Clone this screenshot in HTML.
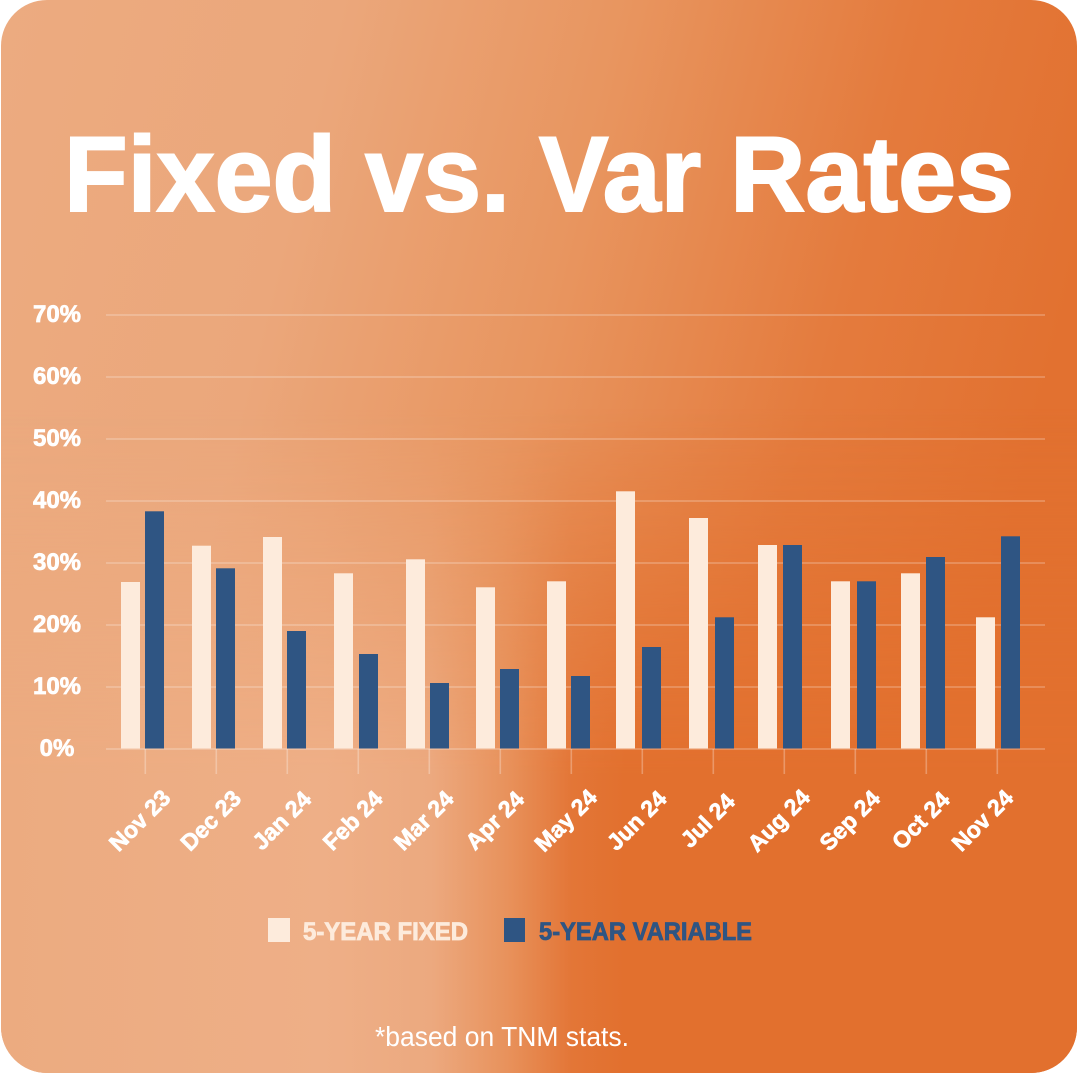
<!DOCTYPE html>
<html>
<head>
<meta charset="utf-8">
<style>
html,body{margin:0;padding:0;background:#ffffff;}
svg{display:block;}
</style>
</head>
<body>
<svg width="1078" height="1074" viewBox="0 0 1078 1074" xmlns="http://www.w3.org/2000/svg">
<defs>
  <linearGradient id="g1" x1="0" y1="0" x2="1" y2="0.25">
    <stop offset="0" stop-color="#ecab80"/>
    <stop offset="0.3" stop-color="#eba77b"/>
    <stop offset="0.55" stop-color="#e8955f"/>
    <stop offset="0.8" stop-color="#e47b3d"/>
    <stop offset="1" stop-color="#e27130"/>
  </linearGradient>
  <linearGradient id="g2" x1="0" y1="0" x2="1" y2="0">
    <stop offset="0" stop-color="#ecab80"/>
    <stop offset="0.3" stop-color="#eeaf87"/>
    <stop offset="0.4" stop-color="#eca97f"/>
    <stop offset="0.47" stop-color="#e8925c"/>
    <stop offset="0.53" stop-color="#e37637"/>
    <stop offset="0.58" stop-color="#e2702e"/>
    <stop offset="1" stop-color="#e2702e"/>
  </linearGradient>
  <linearGradient id="mg" x1="0" y1="0" x2="0" y2="1">
    <stop offset="0.38" stop-color="#fff" stop-opacity="0"/>
    <stop offset="0.72" stop-color="#fff" stop-opacity="1"/>
    <stop offset="1" stop-color="#fff" stop-opacity="1"/>
  </linearGradient>
  <mask id="m">
    <rect x="0" y="0" width="1078" height="1074" fill="url(#mg)"/>
  </mask>
  <clipPath id="card">
    <rect x="1" y="0" width="1076" height="1073" rx="46" ry="46"/>
  </clipPath>
</defs>

<g clip-path="url(#card)">
  <rect x="0" y="0" width="1078" height="1074" fill="url(#g1)"/>
  <rect x="0" y="0" width="1078" height="1074" fill="url(#g2)" mask="url(#m)"/>
</g>

<!-- Title -->
<text x="64" y="211" font-family="Liberation Sans, Arial, sans-serif" font-weight="bold" font-size="107" fill="#ffffff" stroke="#ffffff" stroke-width="2" textLength="950" lengthAdjust="spacingAndGlyphs">Fixed vs. Var Rates</text>

<!-- Gridlines -->
<g stroke="#ffffff" stroke-opacity="0.28" stroke-width="1.6">
  <line x1="106" y1="315" x2="1045" y2="315"/>
  <line x1="106" y1="377" x2="1045" y2="377"/>
  <line x1="106" y1="439" x2="1045" y2="439"/>
  <line x1="106" y1="501" x2="1045" y2="501"/>
  <line x1="106" y1="563" x2="1045" y2="563"/>
  <line x1="106" y1="625" x2="1045" y2="625"/>
  <line x1="106" y1="687" x2="1045" y2="687"/>
  <line x1="106" y1="749" x2="1045" y2="749"/>
  <!-- ticks -->
  <line x1="145.3" y1="749" x2="145.3" y2="774"/>
  <line x1="216.3" y1="749" x2="216.3" y2="774"/>
  <line x1="287.3" y1="749" x2="287.3" y2="774"/>
  <line x1="358.3" y1="749" x2="358.3" y2="774"/>
  <line x1="429.3" y1="749" x2="429.3" y2="774"/>
  <line x1="500.3" y1="749" x2="500.3" y2="774"/>
  <line x1="571.3" y1="749" x2="571.3" y2="774"/>
  <line x1="642.3" y1="749" x2="642.3" y2="774"/>
  <line x1="713.3" y1="749" x2="713.3" y2="774"/>
  <line x1="784.3" y1="749" x2="784.3" y2="774"/>
  <line x1="855.3" y1="749" x2="855.3" y2="774"/>
  <line x1="926.3" y1="749" x2="926.3" y2="774"/>
  <line x1="997.3" y1="749" x2="997.3" y2="774"/>
</g>

<!-- Y labels -->
<g font-family="Liberation Sans, Arial, sans-serif" font-weight="bold" font-size="24" fill="#ffffff" stroke="#ffffff" stroke-width="0.7" text-anchor="middle">
  <text x="57" y="322">70%</text>
  <text x="57" y="384">60%</text>
  <text x="57" y="446">50%</text>
  <text x="57" y="508">40%</text>
  <text x="57" y="570">30%</text>
  <text x="57" y="632">20%</text>
  <text x="57" y="694">10%</text>
  <text x="57" y="756">0%</text>
</g>

<!-- Fixed bars -->
<g fill="#fdebdc">
  <rect x="121" y="582" width="19" height="166.5"/>
  <rect x="192" y="545.7" width="19" height="202.8"/>
  <rect x="263" y="537" width="19" height="211.5"/>
  <rect x="334" y="573.3" width="19" height="175.2"/>
  <rect x="406" y="559.3" width="19" height="189.2"/>
  <rect x="476" y="587.3" width="19" height="161.2"/>
  <rect x="547" y="581.3" width="19" height="167.2"/>
  <rect x="616" y="491.3" width="19" height="257.2"/>
  <rect x="689" y="518" width="19" height="230.5"/>
  <rect x="758" y="545" width="19" height="203.5"/>
  <rect x="831" y="581.3" width="19" height="167.2"/>
  <rect x="901" y="573.3" width="19" height="175.2"/>
  <rect x="976" y="617.3" width="19" height="131.2"/>
</g>
<!-- Variable bars -->
<g fill="#2f5583">
  <rect x="145" y="511.3" width="19" height="237.2"/>
  <rect x="216" y="568.3" width="19" height="180.2"/>
  <rect x="287" y="631" width="19" height="117.5"/>
  <rect x="359" y="654" width="19" height="94.5"/>
  <rect x="430" y="683" width="19" height="65.5"/>
  <rect x="500" y="669" width="19" height="79.5"/>
  <rect x="571" y="676" width="19" height="72.5"/>
  <rect x="642" y="647" width="19" height="101.5"/>
  <rect x="715" y="617.3" width="19" height="131.2"/>
  <rect x="783" y="545" width="19" height="203.5"/>
  <rect x="857" y="581.3" width="19" height="167.2"/>
  <rect x="926" y="557" width="19" height="191.5"/>
  <rect x="1001" y="536.3" width="19" height="212.2"/>
</g>

<!-- X labels -->
<g font-family="Liberation Sans, Arial, sans-serif" font-weight="bold" font-size="23" fill="#ffffff" stroke="#ffffff" stroke-width="0.7" text-anchor="middle">
  <text transform="translate(145.3,826) rotate(-45)">Nov 23</text>
  <text transform="translate(216.3,826) rotate(-45)">Dec 23</text>
  <text transform="translate(287.3,826) rotate(-45)">Jan 24</text>
  <text transform="translate(358.3,826) rotate(-45)">Feb 24</text>
  <text transform="translate(429.3,826) rotate(-45)">Mar 24</text>
  <text transform="translate(500.3,826) rotate(-45)">Apr 24</text>
  <text transform="translate(571.3,826) rotate(-45)">May 24</text>
  <text transform="translate(642.3,826) rotate(-45)">Jun 24</text>
  <text transform="translate(713.3,826) rotate(-45)">Jul 24</text>
  <text transform="translate(784.3,826) rotate(-45)">Aug 24</text>
  <text transform="translate(855.3,826) rotate(-45)">Sep 24</text>
  <text transform="translate(926.3,826) rotate(-45)">Oct 24</text>
  <text transform="translate(988,826) rotate(-45)">Nov 24</text>
</g>

<!-- Legend -->
<rect x="268" y="918" width="22" height="24" fill="#fdebdc"/>
<text x="303" y="940" font-family="Liberation Sans, Arial, sans-serif" font-weight="bold" font-size="25" fill="#fdebdc" stroke="#fdebdc" stroke-width="0.8" textLength="165" lengthAdjust="spacingAndGlyphs">5-YEAR FIXED</text>
<rect x="504" y="918" width="21" height="24" fill="#2f5583"/>
<text x="539" y="940" font-family="Liberation Sans, Arial, sans-serif" font-weight="bold" font-size="25" fill="#2f5583" stroke="#2f5583" stroke-width="0.8" textLength="213" lengthAdjust="spacingAndGlyphs">5-YEAR VARIABLE</text>

<!-- Footer -->
<text x="375" y="1046" font-family="Liberation Sans, Arial, sans-serif" font-size="28" fill="#ffffff" textLength="254" lengthAdjust="spacingAndGlyphs">*based on TNM stats.</text>
</svg>
</body>
</html>
